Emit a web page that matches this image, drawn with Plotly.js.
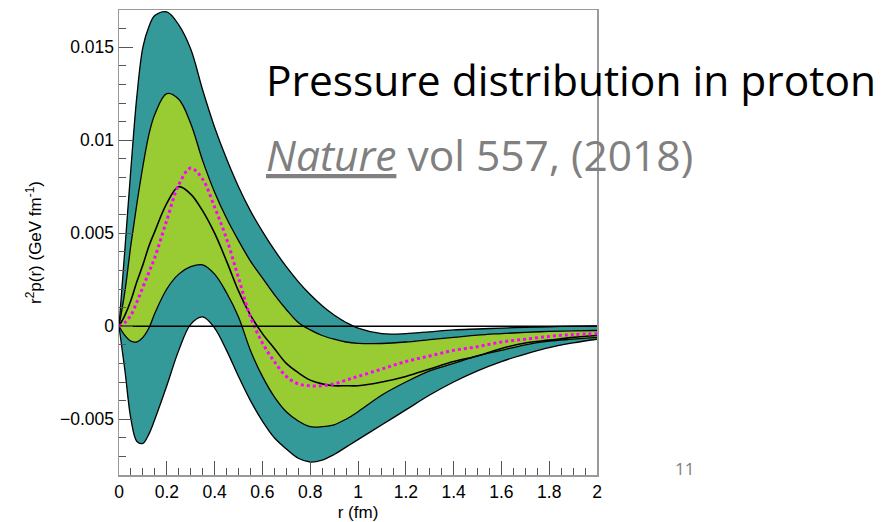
<!DOCTYPE html>
<html>
<head>
<meta charset="utf-8">
<script src="https://cdn.plot.ly/plotly-3.0.1.min.js"></script>
<style>
html,body{margin:0;padding:0;background:#fff;}
#chart{width:887px;height:522px;}
</style>
</head>
<body>
<div id="chart"></div>
<script>
// r values (fm)
const r = [0, 0.025, 0.05, 0.075, 0.1, 0.125, 0.15, 0.2, 0.25, 0.3, 0.35, 0.4, 0.45, 0.5, 0.55, 0.6, 0.65, 0.7, 0.75, 0.8, 0.85, 0.9, 0.95, 1.0, 1.1, 1.2, 1.3, 1.4, 1.5, 1.6, 1.7, 1.8, 1.9, 2.0];

// outer band upper edge
const outerUpper = [0, 0.0042, 0.0085, 0.0124, 0.0150, 0.0161, 0.0167, 0.0169, 0.0162, 0.0149, 0.0127, 0.0107, 0.0090, 0.0075, 0.0062, 0.0051, 0.0041, 0.0032, 0.0024, 0.0017, 0.0011, 0.0006, 0.0002, -0.0001, -0.0004, -0.0004, -0.0003, -0.0002, -0.00015, -0.0001, -0.00006, -0.00003, 0, 0.00002];
// inner band upper edge
const innerUpper = [0, 0.0019, 0.0044, 0.0066, 0.0086, 0.0103, 0.0114, 0.0125, 0.0122, 0.0109, 0.0089, 0.0072, 0.0058, 0.0046, 0.0035, 0.0026, 0.0017, 0.0009, 0.0002, -0.0002, -0.0005, -0.0007, -0.00085, -0.00092, -0.00093, -0.00085, -0.00072, -0.0006, -0.00048, -0.0004, -0.00033, -0.00028, -0.00025, -0.00023];
// inner band lower edge
const innerLower = [0, -0.0005, -0.0008, -0.00084, -0.0006, -0.0001, 0.0007, 0.0020, 0.0028, 0.0032, 0.0033, 0.0028, 0.0018, 0.0005, -0.0013, -0.0027, -0.0038, -0.0046, -0.0051, -0.0054, -0.0054, -0.0053, -0.0050, -0.0046, -0.0037, -0.0030, -0.0024, -0.0020, -0.0016, -0.0013, -0.0010, -0.0008, -0.0007, -0.0006];
// outer band lower edge
const outerLower = [0, -0.0024, -0.0050, -0.0062, -0.0063, -0.0058, -0.0050, -0.0032, -0.0013, 0.0001, 0.0005, -0.0001, -0.0013, -0.0027, -0.0040, -0.0051, -0.0060, -0.0066, -0.0071, -0.0073, -0.0072, -0.0069, -0.0065, -0.0061, -0.0053, -0.0045, -0.0037, -0.0030, -0.0024, -0.0019, -0.0015, -0.00115, -0.0009, -0.0007];
// central value
const central = [0, 0.0006, 0.0014, 0.0024, 0.0033, 0.0043, 0.0051, 0.0066, 0.0075, 0.0071, 0.0062, 0.0050, 0.0035, 0.0019, 0.0006, -0.0004, -0.0012, -0.0020, -0.0025, -0.0029, -0.0031, -0.0032, -0.0032, -0.0032, -0.0030, -0.0027, -0.0023, -0.0019, -0.0016, -0.0012, -0.0009, -0.00075, -0.0006, -0.0005];
// magenta dotted curve
const dotted = [0, 0.0002, 0.0006, 0.0013, 0.0021, 0.0029, 0.0037, 0.0057, 0.0076, 0.0085, 0.0079, 0.0064, 0.0047, 0.0026, 0.0005, -0.0009, -0.0019, -0.0027, -0.0031, -0.0032, -0.0032, -0.0031, -0.0029, -0.0027, -0.0023, -0.0019, -0.0016, -0.0013, -0.0011, -0.00085, -0.0007, -0.00055, -0.00045, -0.0004];
// zero reference line
const zeroX = [0, 2];
const zeroY = [0, 0];

const teal = '#339999';
const green = '#99cc33';
const blk = {color: '#000', width: 1.3, shape: 'spline', smoothing: 1};

const traces = [
  {x: r, y: outerUpper, mode: 'lines', line: blk, hoverinfo: 'skip'},
  {x: r, y: innerUpper, mode: 'lines', line: blk, fill: 'tonexty', fillcolor: teal, hoverinfo: 'skip'},
  {x: r, y: innerLower, mode: 'lines', line: blk, fill: 'tonexty', fillcolor: green, hoverinfo: 'skip'},
  {x: r, y: outerLower, mode: 'lines', line: blk, fill: 'tonexty', fillcolor: teal, hoverinfo: 'skip'},
  {x: r, y: central, mode: 'lines', line: {color: '#000', width: 1.6, shape: 'spline', smoothing: 1}, hoverinfo: 'skip'},
  {x: r, y: dotted, mode: 'lines', line: {color: '#ff00ff', width: 3, dash: 'dot', shape: 'spline', smoothing: 1}, hoverinfo: 'skip'},
  {x: zeroX, y: zeroY, mode: 'lines', line: {color: '#000', width: 1.5}, hoverinfo: 'skip'}
];

const sans = 'Liberation Sans, Arial, sans-serif';
const tickFont = {family: sans, size: 17.5, color: '#000'};

// plot area: x 119..597, y 10..475
const px2paperX = px => (px - 119) / 478;
const px2paperY = py => 1 - (py - 10) / 465;

const layout = {
  width: 887, height: 522,
  margin: {l: 119, r: 290, t: 10, b: 47, pad: 0},
  paper_bgcolor: '#fff', plot_bgcolor: '#fff',
  showlegend: false,
  xaxis: {
    range: [0, 2], dtick: 0.2, tick0: 0,
    ticks: 'inside', ticklen: 14, tickwidth: 1, tickcolor: '#555',
    minor: {dtick: 0.05, ticks: 'inside', ticklen: 7, tickwidth: 1, tickcolor: '#555'},
    showgrid: false, zeroline: false,
    showline: true, linecolor: '#999', linewidth: 1.5, mirror: true,
    tickfont: tickFont,
    title: {text: 'r (fm)', font: {family: sans, size: 17, color: '#000'}, standoff: 8},
    automargin: false
  },
  yaxis: {
    range: [-0.008, 0.017], dtick: 0.005, tick0: 0,
    ticks: 'inside', ticklen: 14, tickwidth: 1, tickcolor: '#555',
    minor: {dtick: 0.001, ticks: 'inside', ticklen: 7, tickwidth: 1, tickcolor: '#555'},
    showgrid: false, zeroline: false,
    showline: true, linecolor: '#999', linewidth: 1.5, mirror: true,
    tickfont: tickFont,
    title: {text: 'r<sup>2</sup>p(r) (GeV fm<sup>-1</sup>)', font: {family: sans, size: 17, color: '#000'}, standoff: 14},
    automargin: false
  },
  annotations: [
    {xref: 'paper', yref: 'paper', x: px2paperX(264), y: px2paperY(79), xanchor: 'left', yanchor: 'middle',
     text: 'Pressure distribution in proton', showarrow: false,
     font: {family: 'Open Sans, sans-serif', size: 42.5, color: '#000'}},
    {xref: 'paper', yref: 'paper', x: px2paperX(264), y: px2paperY(154), xanchor: 'left', yanchor: 'middle',
     text: '<i><u>Nature</u></i> vol 557, (2018)', showarrow: false,
     font: {family: 'Open Sans, sans-serif', size: 42.5, color: '#808080'}},
    {xref: 'paper', yref: 'paper', x: px2paperX(684), y: px2paperY(468), xanchor: 'center', yanchor: 'middle',
     text: '11', showarrow: false,
     font: {family: 'Open Sans, sans-serif', size: 17, color: '#808080'}}
  ]
};

Plotly.newPlot('chart', traces, layout, {displayModeBar: false, staticPlot: true});
</script>
</body>
</html>
